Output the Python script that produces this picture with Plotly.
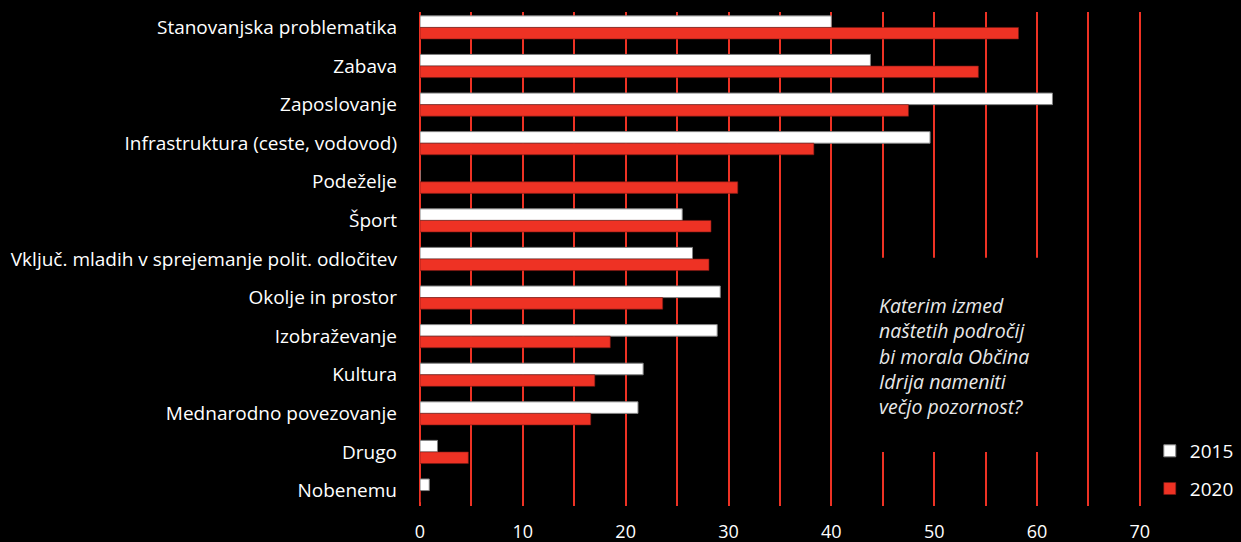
import plotly.graph_objects as go

categories = [
    "Stanovanjska problematika",
    "Zabava",
    "Zaposlovanje",
    "Infrastruktura (ceste, vodovod)",
    "Podeželje",
    "Šport",
    "Vključ. mladih v sprejemanje polit. odločitev",
    "Okolje in prostor",
    "Izobraževanje",
    "Kultura",
    "Mednarodno povezovanje",
    "Drugo",
    "Nobenemu",
]
values_2015 = [40.0, 43.8, 61.5, 49.6, 0, 25.5, 26.5, 29.2, 28.9, 21.7, 21.2, 1.7, 0.9]
values_2020 = [58.2, 54.3, 47.5, 38.3, 30.9, 28.3, 28.1, 23.6, 18.5, 17.0, 16.6, 4.7, 0]
x_ticks = list(range(0, 75, 5))
question = "Katerim izmed<br>naštetih področij<br>bi morala Občina<br>Idrija nameniti<br>večjo pozornost?"

RED = "#EE3224"
FONT = "Open Sans"

fig = go.Figure()
fig.add_trace(
    go.Bar(
        y=categories,
        x=values_2015,
        orientation="h",
        name="2015",
        legendgroup="a",
        marker={"color": "#FFFFFF", "line": {"color": "#808080", "width": 1}},
    )
)
fig.add_trace(
    go.Bar(
        y=categories,
        x=values_2020,
        orientation="h",
        name="2020",
        legendgroup="b",
        marker={"color": RED, "line": {"color": "#7a1a14", "width": 0.6}},
    )
)

# black panel that hides the grid behind the question text
fig.add_shape(
    type="rect",
    xref="x",
    yref="y",
    x0=42.2,
    x1=62.5,
    y0=5.97,
    y1=11.0,
    fillcolor="#000000",
    line={"width": 0},
    layer="between",
)
fig.add_annotation(
    text=question,
    xref="x",
    yref="paper",
    x=44.4,
    y=0.437,
    xanchor="left",
    yanchor="top",
    align="left",
    showarrow=False,
    font={"family": FONT, "size": 19.5, "color": "#E8E8E8", "style": "italic"},
)

fig.update_layout(
    width=1241,
    height=542,
    paper_bgcolor="#000000",
    plot_bgcolor="#000000",
    margin={"l": 420, "r": 96, "t": 12, "b": 36, "autoexpand": False},
    barmode="group",
    bargap=0.4,
    bargroupgap=0,
    font={"family": FONT, "size": 19, "color": "#FFFFFF"},
    showlegend=True,
    legend={
        "xref": "container",
        "yref": "container",
        "x": 0.9265,
        "xanchor": "left",
        "y": 0.203,
        "yanchor": "top",
        "traceorder": "grouped",
        "tracegroupgap": 10,
        "font": {"family": FONT, "size": 19, "color": "#FFFFFF"},
        "bgcolor": "rgba(0,0,0,0)",
    },
    xaxis={
        "range": [0, 70.5],
        "tickvals": x_ticks,
        "ticktext": [str(v) if v % 10 == 0 else "" for v in x_ticks],
        "showgrid": True,
        "gridcolor": RED,
        "gridwidth": 1.6,
        "zeroline": True,
        "zerolinecolor": RED,
        "zerolinewidth": 2,
        "ticks": "",
        "ticklabelstandoff": 13,
        "automargin": False,
        "tickfont": {"family": FONT, "size": 18, "color": "#FFFFFF"},
        "fixedrange": True,
    },
    yaxis={
        "range": [12.4, -0.4],
        "showgrid": False,
        "ticks": "",
        "ticklabelstandoff": 22,
        "automargin": False,
        "tickfont": {"family": FONT, "size": 19, "color": "#FFFFFF"},
        "fixedrange": True,
    },
)

fig.write_html(
    "out.html",
    config={"displayModeBar": False},
    post_script="document.body.style.margin='0';document.body.style.background='#000';",
)
